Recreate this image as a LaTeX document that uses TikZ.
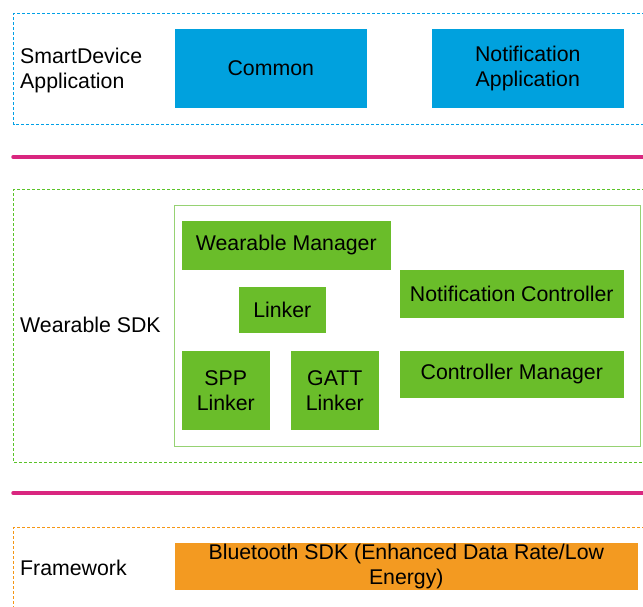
\documentclass[tikz,border=0pt]{standalone}
\usepackage{fontspec}
\setmainfont{Liberation Sans}
\definecolor{cblue}{RGB}{0,161,222}
\definecolor{cgreen}{RGB}{106,189,42}
\definecolor{corange}{RGB}{243,154,33}
\definecolor{cmag}{RGB}{217,38,127}
\definecolor{dblue}{RGB}{0,160,230}
\definecolor{dgreen}{RGB}{90,195,40}
\definecolor{dorange}{RGB}{245,150,20}
\definecolor{igreen}{RGB}{150,210,115}
\tikzset{
  layer/.style={line width=1.3pt, dash pattern=on 3pt off 2pt},
  blk/.style={anchor=north west, inner sep=0pt, align=center, font=\fontsize{21.3}{25}\selectfont, draw=white, line width=0.6pt},
  lbl/.style={anchor=west, inner sep=0pt, align=left, font=\fontsize{21.3}{25}\selectfont},
  sep/.style={line width=3.5pt, draw=cmag, line cap=round}
}
\begin{document}
\begin{tikzpicture}[x=1pt,y=-1pt]
\useasboundingbox (0,0) rectangle (643,606);
\clip (0,0) rectangle (643,606);
% top layer
\draw[layer, draw=dblue] (660,13.5) -- (13.5,13.5) -- (13.5,124.5) -- (660,124.5);
\node[lbl] (sda) at (20,70) {SmartDevice\\Application};
\node[blk, fill=cblue, minimum width=193pt, minimum height=80pt] (common) at (174,28) {Common};
\node[blk, fill=cblue, minimum width=193pt, minimum height=80pt] (notapp) at (431,28) {Notification\\Application};
% separator 1
\coordinate (s1a) at (13,157);
\coordinate (s1b) at (660,157);
\draw[sep] (s1a) -- (s1b);
% wearable SDK layer
\draw[layer, draw=dgreen] (660,189.5) -- (13.5,189.5) -- (13.5,462.5) -- (660,462.5);
\draw[line width=1pt, draw=igreen] (174.5,205.5) rectangle (640.5,446.5);
\node[lbl] (wsdk) at (20,325) {Wearable SDK};
\node[blk, fill=cgreen, minimum width=210pt, minimum height=50pt] (wm) at (181,220) {Wearable Manager};
\node[blk, fill=cgreen, minimum width=88pt, minimum height=47pt] (lk) at (238,286) {Linker};
\node[blk, fill=cgreen, minimum width=225pt, minimum height=49pt] (nc) at (399,269) {Notification Controller};
\node[blk, fill=cgreen, minimum width=89pt, minimum height=80pt] (spp) at (181,350) {SPP\\Linker};
\node[blk, fill=cgreen, minimum width=89pt, minimum height=80pt] (gatt) at (290,350) {GATT\\Linker};
\node[blk, fill=cgreen, minimum width=225pt, minimum height=48pt] (cm) at (399,350) {Controller Manager};
% separator 2
\coordinate (s2a) at (13,493);
\coordinate (s2b) at (660,493);
\draw[sep] (s2a) -- (s2b);
% framework layer
\draw[layer, draw=dorange] (660,527.5) -- (13.5,527.5) -- (13.5,640);
\node[lbl] (fw) at (20,568) {Framework};
\node[blk, fill=corange, minimum width=464pt, minimum height=48pt] (bt) at (174,542) {Bluetooth SDK (Enhanced Data Rate/Low\\Energy)};
\end{tikzpicture}
\end{document}
